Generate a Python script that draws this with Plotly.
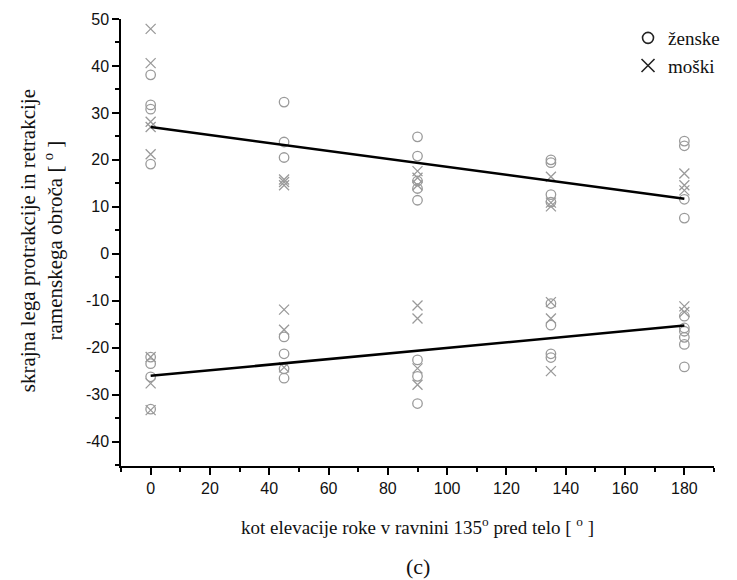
import plotly.graph_objects as go

# Elevation angles (x categories)
kot = [0, 45, 90, 135, 180]

# Protraction (upper cloud) per angle
zenske_protrakcija = [
    [38.1, 31.7, 30.8, 19.1],
    [32.3, 23.8, 20.5],
    [24.9, 20.8, 15.5, 13.9, 11.4],
    [20.0, 19.4, 12.6, 11.0],
    [24.0, 23.0, 11.6, 7.6],
]
moski_protrakcija = [
    [47.9, 40.6, 28.1, 27.0, 21.2],
    [15.8, 15.3, 14.6],
    [17.6, 16.2, 14.6],
    [16.4, 10.9, 10.1],
    [17.1, 14.6, 13.5],
]

# Retraction (lower cloud) per angle
zenske_retrakcija = [
    [-22.0, -23.4, -26.2, -33.1],
    [-17.7, -21.3, -24.5, -26.5],
    [-22.6, -26.1, -31.9],
    [-10.6, -15.2, -21.3, -22.1],
    [-13.3, -15.8, -16.5, -17.8, -19.3, -24.1],
]
moski_retrakcija = [
    [-22.0, -27.6, -33.3],
    [-11.9, -16.2, -24.2],
    [-11.0, -13.8, -24.4, -27.9],
    [-10.3, -13.8, -25.0],
    [-11.2, -12.4],
]

# Linear trend end points at 0 and 180 degrees
trend_x = [0, 180]
trend_protrakcija = [27.0, 11.7]
trend_retrakcija = [-26.0, -15.3]

# Axis tick labels
x_ticks = [0, 20, 40, 60, 80, 100, 120, 140, 160, 180]
y_ticks = [-40, -30, -20, -10, 0, 10, 20, 30, 40, 50]

GREY = "#9a9a9a"
SERIF = "Liberation Serif, Times New Roman, serif"
SANS = "Liberation Sans, Arial, sans-serif"


def flatten(groups):
    xs, ys = [], []
    for a, vals in zip(kot, groups):
        xs += [a] * len(vals)
        ys += vals
    return xs, ys


fig = go.Figure()

circle = dict(symbol="circle-open", size=9.5, color=GREY, line=dict(width=1.3, color=GREY))
cross = dict(symbol="x-thin-open", size=10, color=GREY, line=dict(width=1.3, color=GREY))

for groups in (zenske_protrakcija, zenske_retrakcija):
    xs, ys = flatten(groups)
    fig.add_trace(go.Scatter(x=xs, y=ys, mode="markers", marker=circle, showlegend=False))
for groups in (moski_protrakcija, moski_retrakcija):
    xs, ys = flatten(groups)
    fig.add_trace(go.Scatter(x=xs, y=ys, mode="markers", marker=cross, showlegend=False))

for tr in (trend_protrakcija, trend_retrakcija):
    fig.add_trace(go.Scatter(x=trend_x, y=tr, mode="lines",
                             line=dict(color="black", width=2.5), showlegend=False))

# Legend entries with dark symbols
fig.add_trace(go.Scatter(x=[None], y=[None], mode="markers", name="ženske",
                         marker=dict(symbol="circle-open", size=11, color="#222",
                                     line=dict(width=1.6, color="#222"))))
fig.add_trace(go.Scatter(x=[None], y=[None], mode="markers", name="moški",
                         marker=dict(symbol="x-thin-open", size=13, color="#222",
                                     line=dict(width=1.6, color="#222"))))

axis_common = dict(
    showline=True, linecolor="black", linewidth=1.5,
    ticks="outside", ticklen=7, tickwidth=1.5, tickcolor="black",
    showgrid=False, zeroline=False, mirror=False,
    tickfont=dict(family=SANS, size=16, color="#111"),
)

fig.update_xaxes(range=[-10, 190], tickmode="array", tickvals=x_ticks,
                 ticktext=[str(v) for v in x_ticks],
                 minor=dict(dtick=10, tick0=0, ticks="outside", ticklen=4, tickwidth=1.5,
                            tickcolor="black"),
                 **axis_common)
fig.update_yaxes(range=[-45.2, 50], tickmode="array", tickvals=y_ticks,
                 ticktext=[str(v) for v in y_ticks],
                 minor=dict(dtick=5, tick0=0, ticks="outside", ticklen=4, tickwidth=1.5,
                            tickcolor="black"),
                 **axis_common)

fig.update_layout(
    width=737, height=580,
    margin=dict(l=121, r=12, t=19, b=114),
    paper_bgcolor="white", plot_bgcolor="white",
    legend=dict(x=0.855, y=1.0, xanchor="left", yanchor="top",
                font=dict(family=SERIF, size=19, color="#111"),
                bgcolor="rgba(0,0,0,0)", itemsizing="trace", tracegroupgap=0),
    annotations=[
        dict(text="kot elevacije roke v ravnini 135<sup>o</sup> pred telo [ <sup>o</sup> ]",
             xref="paper", yref="paper", x=0.5, y=-0.135, xanchor="center", yanchor="middle",
             showarrow=False, font=dict(family=SERIF, size=19, color="#111")),
        dict(text="skrajna lega protrakcije in retrakcije<br>ramenskega obroča [ <sup>o</sup> ]",
             xref="paper", yref="paper", x=-0.135, y=0.505, xanchor="center", yanchor="middle",
             textangle=-90, showarrow=False,
             font=dict(family=SERIF, size=21, color="#111")),
        dict(text="(c)", xref="paper", yref="paper", x=0.5, y=-0.225,
             xanchor="center", yanchor="middle", showarrow=False,
             font=dict(family=SERIF, size=22, color="#111")),
    ],
)

fig.write_html("out.html")
